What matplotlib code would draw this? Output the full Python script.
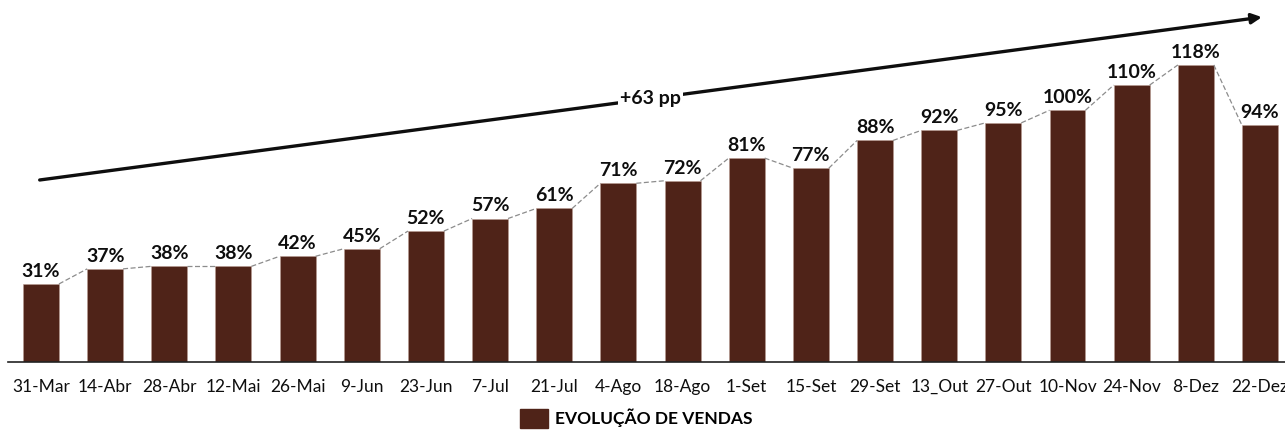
import matplotlib
matplotlib.use('Agg')
import matplotlib.pyplot as plt
import matplotlib.patches as mpatches

BAR = '#4F2318'
INK = '#0E0E0E'
DASH = '#8C8C8C'

# --- Data -----------------------------------------------------------------
dates = ['31-Mar', '14-Abr', '28-Abr', '12-Mai', '26-Mai', '9-Jun', '23-Jun',
         '7-Jul', '21-Jul', '4-Ago', '18-Ago', '1-Set', '15-Set', '29-Set',
         '13_Out', '27-Out', '10-Nov', '24-Nov', '8-Dez', '22-Dez']
vendas = [31, 37, 38, 38, 42, 45, 52, 57, 61, 71, 72, 81, 77, 88, 92, 95,
          100, 110, 118, 94]
trend_label = '+63 pp'
legend_label = 'EVOLUÇÃO DE VENDAS'

plt.rcParams['font.family'] = ['Lato', 'DejaVu Sans']

fig = plt.figure(figsize=(12.85, 4.30), dpi=100)
ax = fig.add_axes([8 / 1285, 68 / 430, 1 - 8 / 1285, 362 / 430])

x = list(range(len(vendas)))
W = 0.56
bars = ax.bar(x, vendas, width=W, color=BAR, edgecolor='#b89c92', lw=0.4)

# dashed connector between neighbouring bar tops
for i in range(len(vendas) - 1):
    ax.plot([x[i] + W / 2, x[i + 1] - W / 2], [vendas[i], vendas[i + 1]],
            color=DASH, lw=0.9, ls=(0, (4, 2)), zorder=1)

# value labels
for xi, v in zip(x, vendas):
    ax.annotate(f'{v}%', (xi, v), xytext=(0, 3), textcoords='offset points',
                ha='center', va='bottom', fontsize=14, fontweight='bold',
                color=INK)

# trend arrow
x0, y0 = -0.02, 72.3
x1, y1 = 19.03, 137.0
ax.annotate('', xy=(x1, y1), xytext=(x0, y0),
            arrowprops=dict(arrowstyle='-|>', color=INK, lw=2.4,
                            mutation_scale=15, shrinkA=0, shrinkB=0))
tx = 9.5
ax.text(tx, y0 + (y1 - y0) * (tx - x0) / (x1 - x0), trend_label,
        ha='center', va='center', fontsize=14, fontweight='bold', color=INK,
        bbox=dict(boxstyle='square,pad=0.1', fc='white', ec='none'))

ax.set_xlim(-0.514, 19.39)
ax.set_ylim(0, 143.8)
ax.set_xticks(x)
ax.set_xticklabels(dates, fontsize=12.5, color=INK)
ax.tick_params(axis='x', length=0, pad=12)
ax.set_yticks([])
for s in ['top', 'right', 'left']:
    ax.spines[s].set_visible(False)
ax.spines['bottom'].set_color('#222222')
ax.spines['bottom'].set_linewidth(1.2)

handle = mpatches.Patch(color=BAR, label=legend_label)
leg = fig.legend(handles=[handle], loc='center', bbox_to_anchor=(636 / 1285, 1 - 418 / 430),
                 frameon=False, handlelength=1.6, handleheight=1.3, handletextpad=0.4,
                 prop=dict(weight='bold', size=12.5))

fig.savefig('out.png', dpi=100, facecolor='white')
